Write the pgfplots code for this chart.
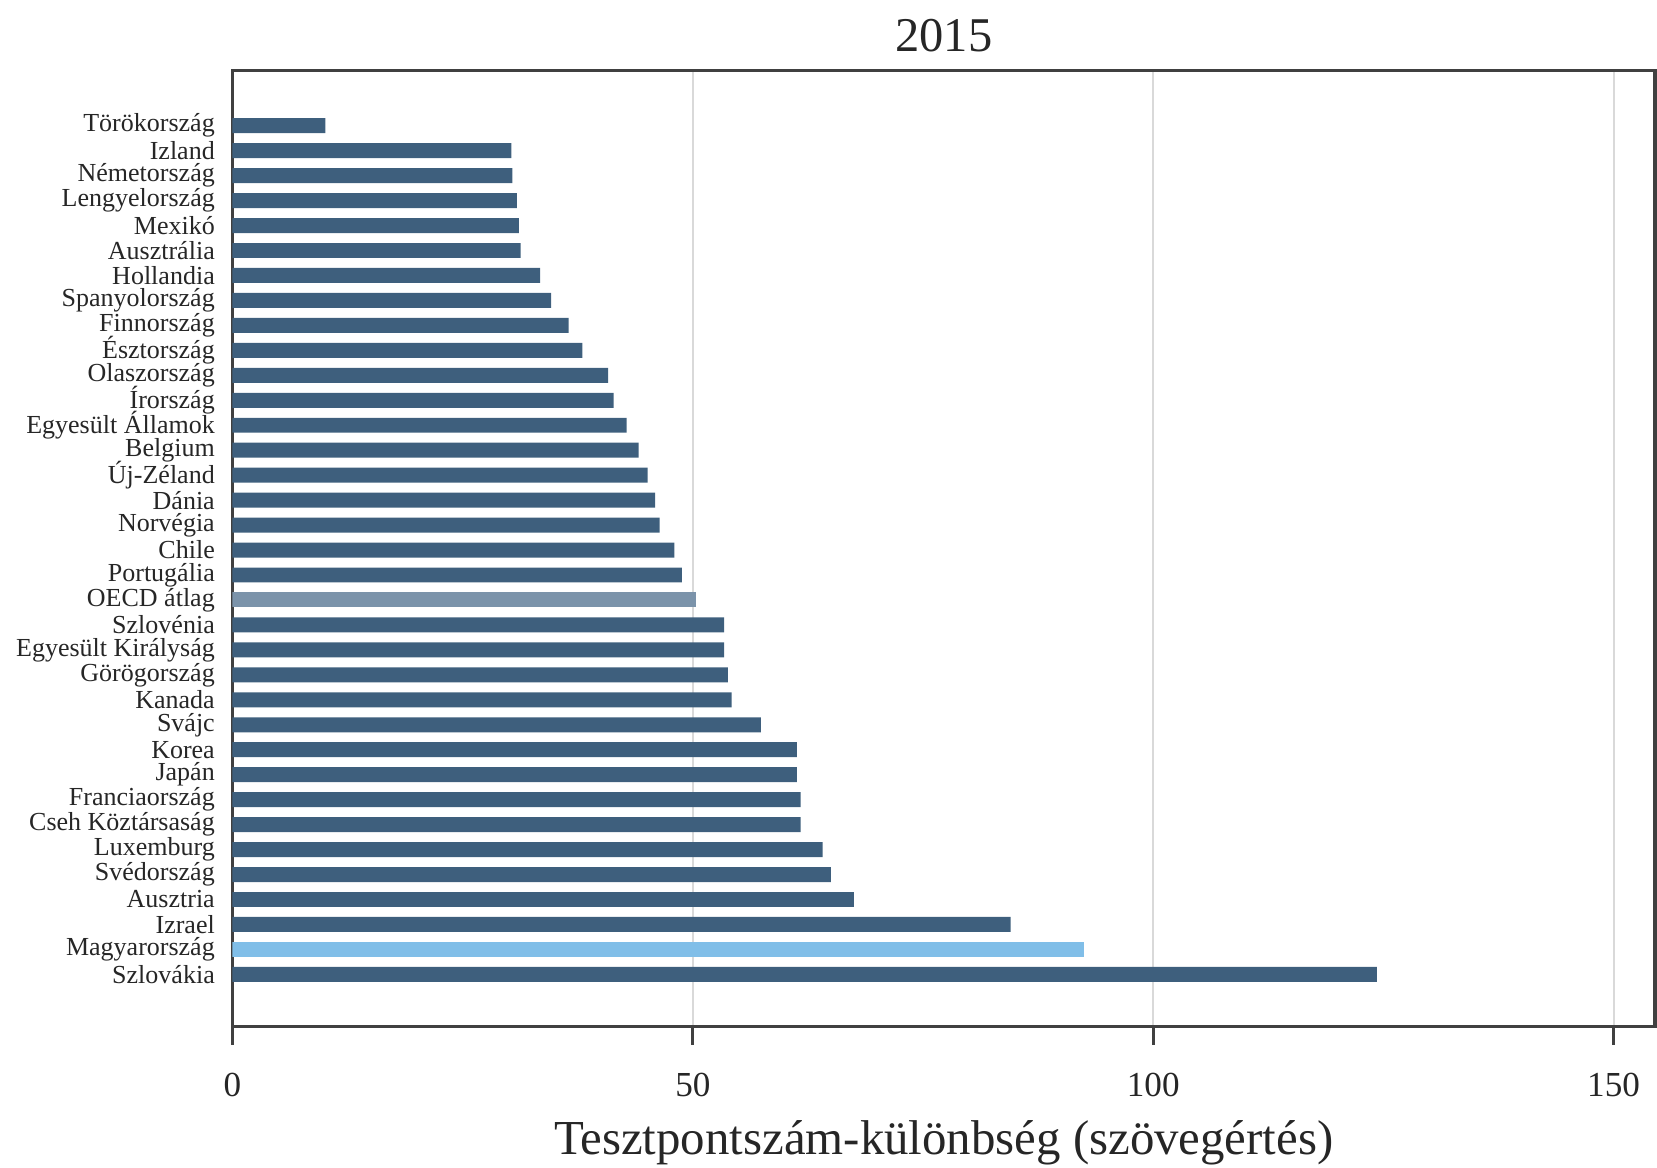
\documentclass[border=0pt]{standalone}
\usepackage{fontspec}
\setmainfont{Liberation Serif}
\usepackage{pgfplots}
\pgfplotsset{compat=1.18}
\usetikzlibrary{calc}

\definecolor{barblue}{HTML}{3E5F7D}
\definecolor{oecdgray}{HTML}{7B93AA}
\definecolor{hunblue}{HTML}{80BEE8}

\begin{document}
\begin{tikzpicture}
\begin{axis}[
  name=ax,
  width=14.225cm, height=9.56cm, scale only axis,
  xbar, bar width=0.6, bar shift=0pt,
  xmin=0, xmax=154.5, ymin=-1.1, ymax=37.2,
  xtick={0,50,100,150}, xtick pos=bottom,
  tick align=outside, major tick length=0.18cm,
  ytick={1,...,35},
  yticklabels={Szlovákia, Magyarország, Izrael, Ausztria, Svédország, Luxemburg,
    Cseh Köztársaság, Franciaország, Japán, Korea, Svájc, Kanada, Görögország,
    Egyesült Királyság, Szlovénia, OECD átlag, Portugália, Chile, Norvégia, Dánia,
    Új-Zéland, Belgium, Egyesült Államok, Írország, Olaszország, Észtország,
    Finnország, Spanyolország, Hollandia, Ausztrália, Mexikó, Lengyelország,
    Németország, Izland, Törökország},
  y tick style={draw=none},
  xmajorgrids, grid style={color=black!15, line width=0.6pt},
  axis line style={draw=black!75, line width=0.9pt},
  x tick style={draw=black!75, line width=0.8pt},
  /pgf/number format/assume math mode=true,
  yticklabel style={font=\fontsize{7.4}{7.4}\selectfont, text=black!85, inner xsep=0pt, xshift=0.01cm},
  xticklabel style={font=\fontsize{10}{10}\selectfont, text=black!85, yshift=-0.16cm},
  title={2015},
  title style={font=\fontsize{13.8}{14}\selectfont, text=black!85, at={(0.5,1)}, anchor=base, yshift=-0.02cm},
  xlabel={Tesztpontszám-különbség (szövegértés)},
  xlabel style={font=\fontsize{13.9}{14}\selectfont, text=black!85, at={(0.5,0)}, anchor=base, yshift=-1.28cm},
]
\addplot[draw=none, fill=barblue] coordinates {
  (124.3,1) (84.5,3) (67.5,4) (65.0,5) (64.1,6) (61.7,7) (61.7,8)
  (61.3,9) (61.3,10) (57.4,11) (54.2,12) (53.8,13) (53.4,14) (53.4,15)
  (48.8,17) (48.0,18) (46.4,19) (45.9,20) (45.1,21) (44.1,22) (42.8,23)
  (41.4,24) (40.8,25) (38.0,26) (36.5,27) (34.6,28) (33.4,29) (31.3,30)
  (31.1,31) (30.9,32) (30.4,33) (30.3,34) (10.1,35)
};
\addplot[draw=none, fill=hunblue] coordinates {(92.5,2)};
\addplot[draw=none, fill=oecdgray] coordinates {(50.3,16)};
\end{axis}
\pgfresetboundingbox
\path[use as bounding box] ($(ax.south west)+(-2.325cm,-1.41cm)$) rectangle ($(ax.north east)+(0.02cm,0.708cm)$);
\end{tikzpicture}
\end{document}
